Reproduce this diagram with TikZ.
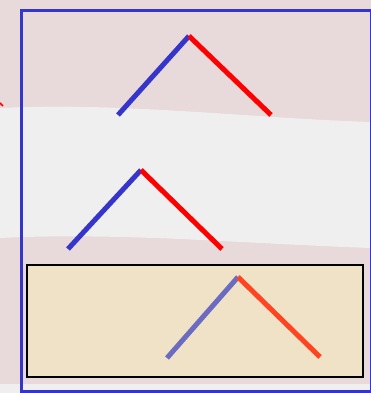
\documentclass[tikz,border=0pt]{standalone}
\definecolor{bgpink}{HTML}{E8D9DA}
\definecolor{bgwhite}{HTML}{EFEFEF}
\definecolor{framblue}{HTML}{3535CC}
\definecolor{roofred}{HTML}{FF0000}
\definecolor{fadeblue}{HTML}{6B6BC2}
\definecolor{fadered}{HTML}{FF4422}
\definecolor{boxfill}{HTML}{F0E2C6}
\tikzset{
  leg/.style={line width=5pt, line cap=butt},
}
\begin{document}
\begin{tikzpicture}[x=1pt,y=-1pt]
\useasboundingbox (0,0) rectangle (371,393);
% background
\fill[bgpink] (0,0) rectangle (371,393);
\fill[bgwhite] (0,108) .. controls (120,102) and (250,118) .. (371,122) -- (371,248) .. controls (250,244) and (120,232) .. (0,238) -- cycle;
\fill[bgwhite] (0,384) rectangle (371,393);
\draw[roofred, line width=1.5pt] (0,103) -- (3,106);
% box
\node[draw=black, line width=1.5pt, fill=boxfill, minimum width=336pt, minimum height=112pt, inner sep=0pt, anchor=north west] (box) at (26,264) {};
% frame
\node[draw=framblue, line width=3pt, minimum width=350pt, minimum height=381pt, inner sep=0pt, anchor=north west] (frame) at (19.5,9) {};
% roof 1
\coordinate (a1) at (118,115);
\coordinate (t1) at (189,36);
\coordinate (b1) at (271,115);
\draw[leg, framblue] (a1) -- (t1);
\draw[leg, roofred] (t1) -- (b1);
% roof 2
\coordinate (a2) at (68,249);
\coordinate (t2) at (141,170);
\coordinate (b2) at (222,249);
\draw[leg, framblue] (a2) -- (t2);
\draw[leg, roofred] (t2) -- (b2);
% roof 3
\coordinate (a3) at (167,358);
\coordinate (t3) at (238,277);
\coordinate (b3) at (320,357);
\draw[leg, fadeblue] (a3) -- (t3);
\draw[leg, fadered] (t3) -- (b3);
\end{tikzpicture}
\end{document}
